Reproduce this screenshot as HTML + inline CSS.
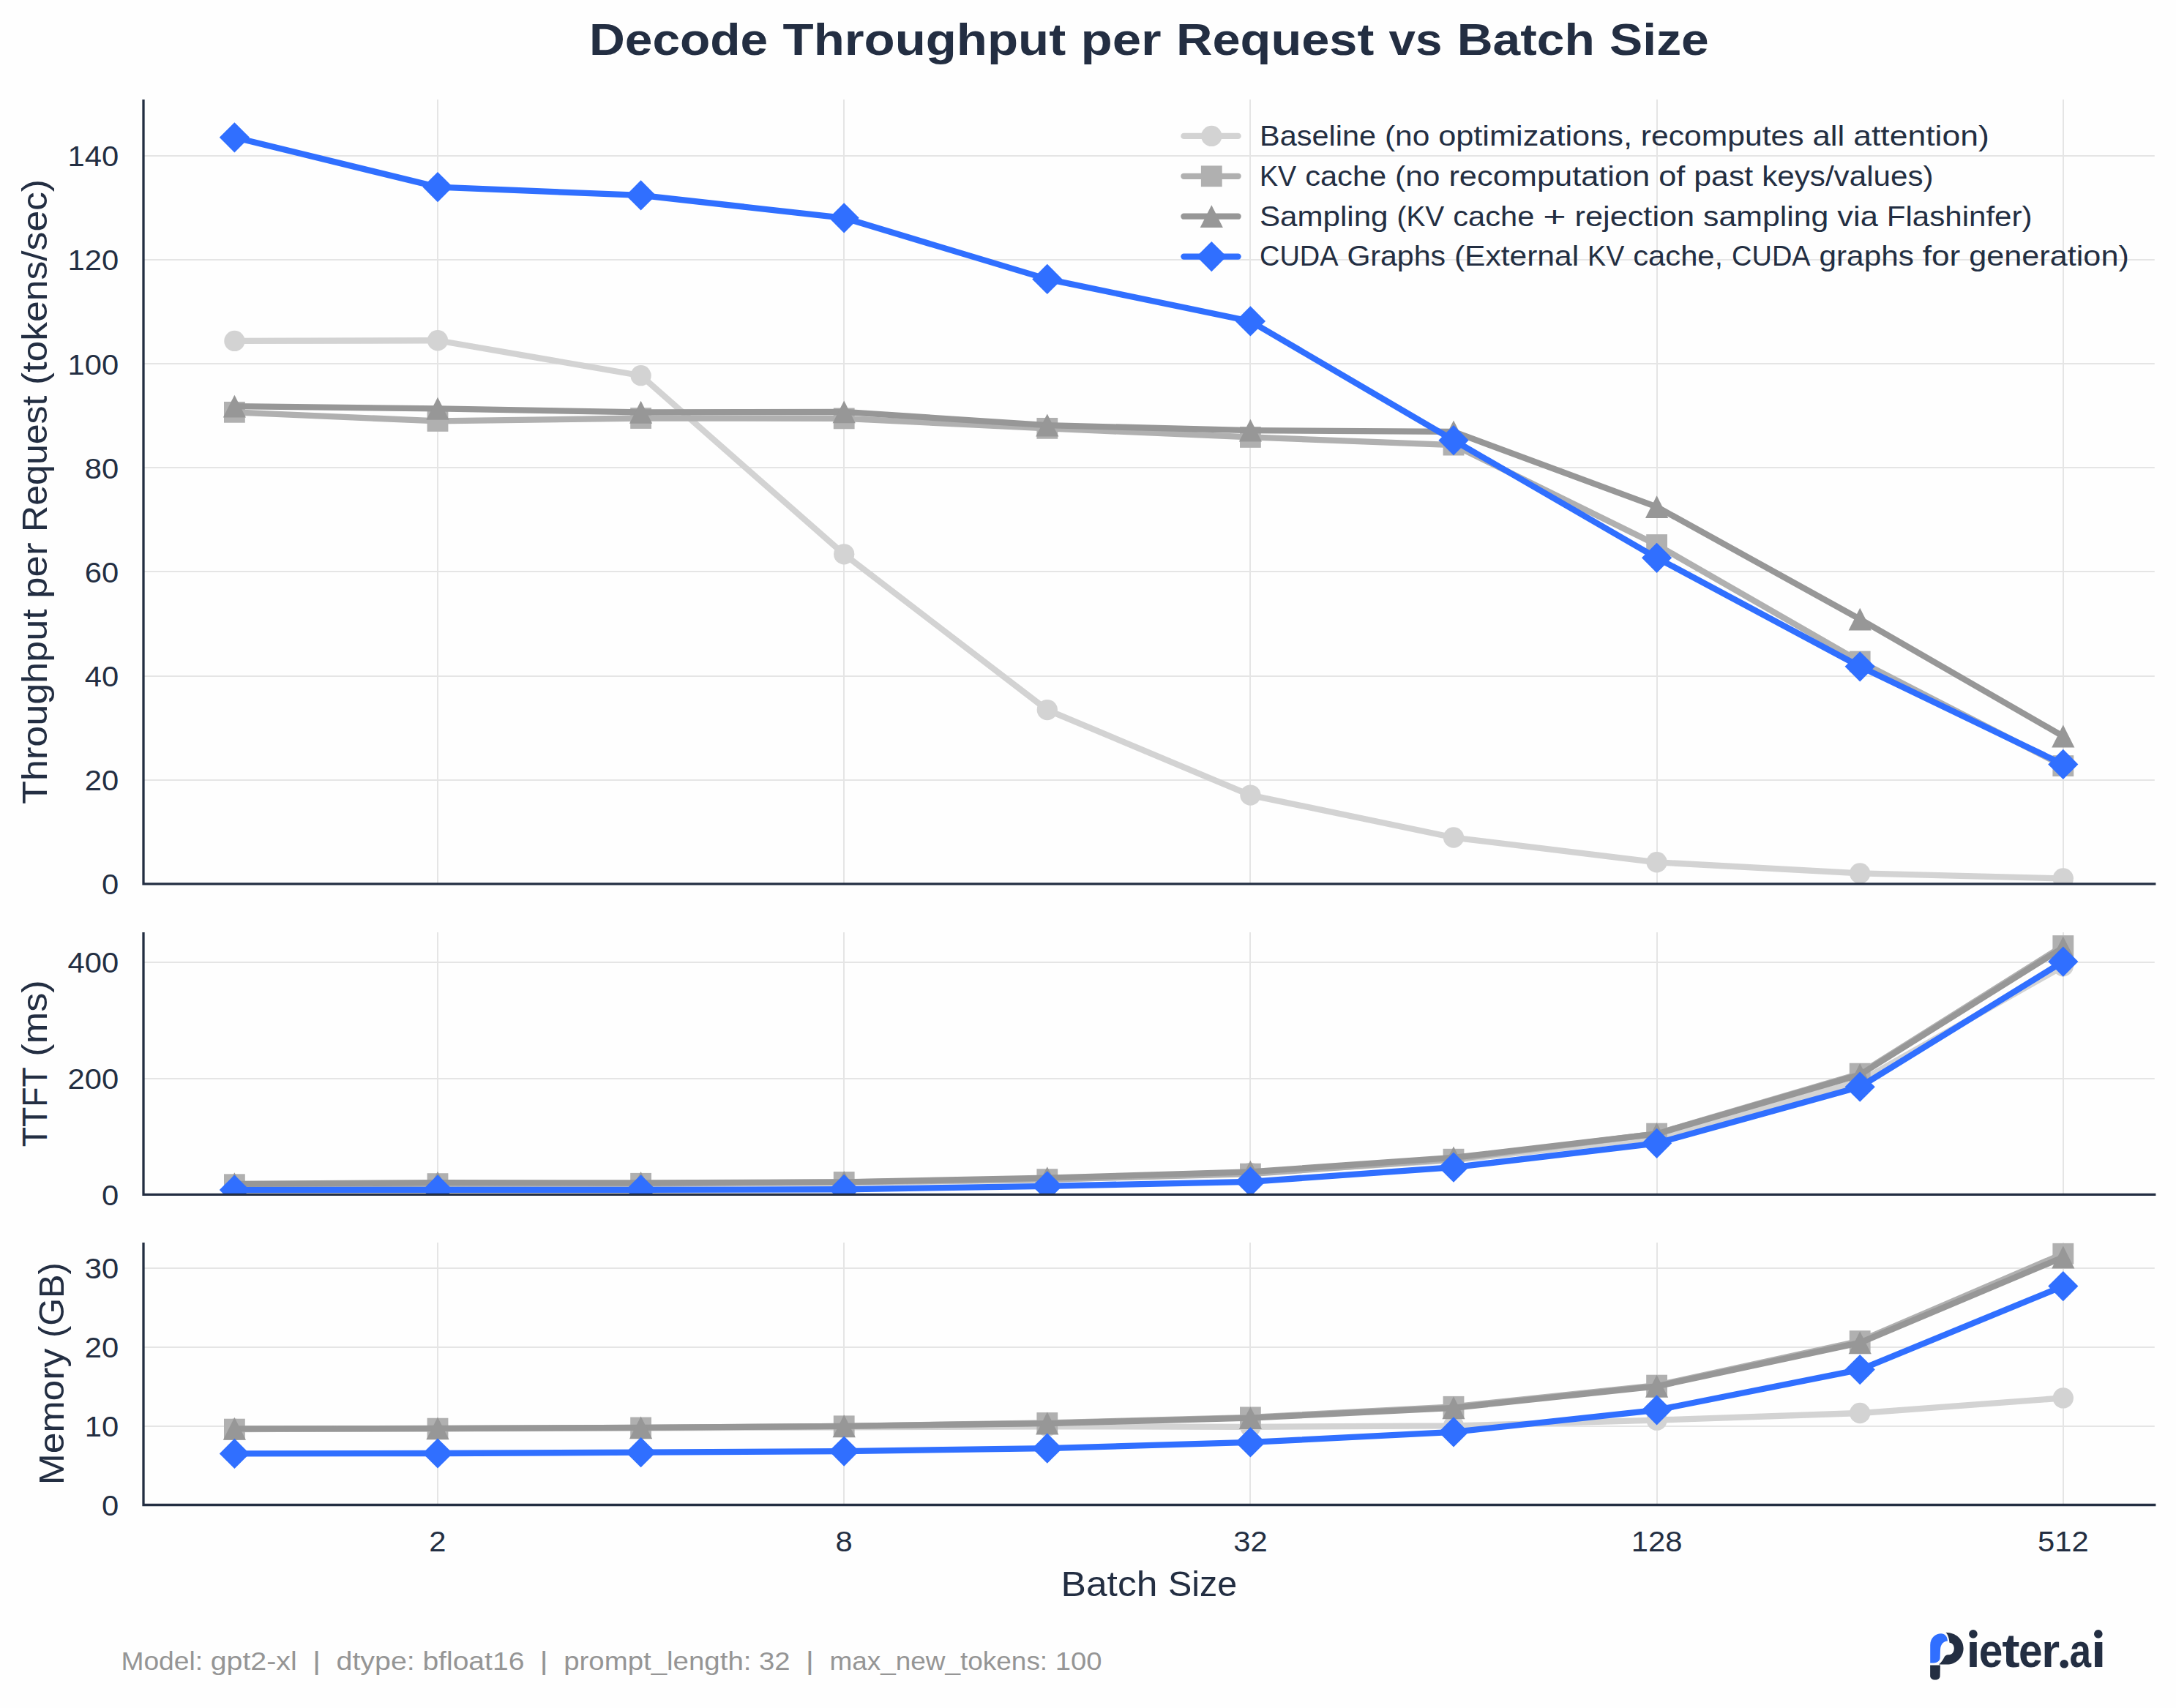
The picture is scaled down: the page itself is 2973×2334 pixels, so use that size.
<!DOCTYPE html>
<html><head><meta charset="utf-8"><style>
html,body{margin:0;padding:0;background:#fefefe;}
svg{display:block;font-family:"Liberation Sans",sans-serif;}
</style></head><body>
<svg width="2973" height="2334" viewBox="0 0 2973 2334">
<defs><clipPath id="c0"><rect x="196.0" y="136.0" width="2747.8" height="1071.9"/></clipPath><clipPath id="c1"><rect x="196.0" y="1274.1" width="2747.8" height="358.2"/></clipPath><clipPath id="c2"><rect x="196.0" y="1698.05" width="2747.8" height="358.45"/></clipPath></defs>
<rect x="0" y="0" width="2973" height="2334" fill="#fefefe"/>
<g font-size="61.03" font-weight="bold" fill="#232e42"><text x="804.99" y="75.2" textLength="244.24" lengthAdjust="spacingAndGlyphs">Decode</text><text x="1069.56" y="75.2" textLength="386.59" lengthAdjust="spacingAndGlyphs">Throughput</text><text x="1476.48" y="75.2" textLength="110.21" lengthAdjust="spacingAndGlyphs">per</text><text x="1607.03" y="75.2" textLength="270.24" lengthAdjust="spacingAndGlyphs">Request</text><text x="1897.6" y="75.2" textLength="72.83" lengthAdjust="spacingAndGlyphs">vs</text><text x="1990.76" y="75.2" textLength="188.03" lengthAdjust="spacingAndGlyphs">Batch</text><text x="2199.13" y="75.2" textLength="135.68" lengthAdjust="spacingAndGlyphs">Size</text></g>
<g stroke="#e5e5e5" stroke-width="2"><line x1="598" y1="136.0" x2="598" y2="1207.9"/><line x1="1153" y1="136.0" x2="1153" y2="1207.9"/><line x1="1708" y1="136.0" x2="1708" y2="1207.9"/><line x1="2264" y1="136.0" x2="2264" y2="1207.9"/><line x1="2819" y1="136.0" x2="2819" y2="1207.9"/><line x1="196.0" y1="1066" x2="2943.8" y2="1066"/><line x1="196.0" y1="924" x2="2943.8" y2="924"/><line x1="196.0" y1="781" x2="2943.8" y2="781"/><line x1="196.0" y1="639" x2="2943.8" y2="639"/><line x1="196.0" y1="497" x2="2943.8" y2="497"/><line x1="196.0" y1="355" x2="2943.8" y2="355"/><line x1="196.0" y1="213" x2="2943.8" y2="213"/></g>
<g clip-path="url(#c0)"><polyline points="320.4,465.96 598,465.25 875.6,513.22 1153.2,757.34 1430.8,970.11 1708.4,1086.59 1986,1144.51 2263.6,1178.27 2541.2,1193.4 2818.8,1200.44" fill="none" stroke="#d3d3d3" stroke-width="8.3" stroke-linejoin="round" stroke-linecap="round"/><circle cx="320.4" cy="465.96" r="14.15" fill="#d3d3d3"/><circle cx="598" cy="465.25" r="14.15" fill="#d3d3d3"/><circle cx="875.6" cy="513.22" r="14.15" fill="#d3d3d3"/><circle cx="1153.2" cy="757.34" r="14.15" fill="#d3d3d3"/><circle cx="1430.8" cy="970.11" r="14.15" fill="#d3d3d3"/><circle cx="1708.4" cy="1086.59" r="14.15" fill="#d3d3d3"/><circle cx="1986" cy="1144.51" r="14.15" fill="#d3d3d3"/><circle cx="2263.6" cy="1178.27" r="14.15" fill="#d3d3d3"/><circle cx="2541.2" cy="1193.4" r="14.15" fill="#d3d3d3"/><circle cx="2818.8" cy="1200.44" r="14.15" fill="#d3d3d3"/><polyline points="320.4,563.32 598,575.4 875.6,571.5 1153.2,571.85 1430.8,585.35 1708.4,597.43 1986,608.09 2263.6,744.54 2541.2,904.02 2818.8,1046.58" fill="none" stroke="#b0b0b0" stroke-width="8.3" stroke-linejoin="round" stroke-linecap="round"/><rect x="306" y="548.92" width="28.8" height="28.8" fill="#b0b0b0"/><rect x="583.6" y="561" width="28.8" height="28.8" fill="#b0b0b0"/><rect x="861.2" y="557.1" width="28.8" height="28.8" fill="#b0b0b0"/><rect x="1138.8" y="557.45" width="28.8" height="28.8" fill="#b0b0b0"/><rect x="1416.4" y="570.95" width="28.8" height="28.8" fill="#b0b0b0"/><rect x="1694" y="583.03" width="28.8" height="28.8" fill="#b0b0b0"/><rect x="1971.6" y="593.69" width="28.8" height="28.8" fill="#b0b0b0"/><rect x="2249.2" y="730.14" width="28.8" height="28.8" fill="#b0b0b0"/><rect x="2526.8" y="889.62" width="28.8" height="28.8" fill="#b0b0b0"/><rect x="2804.4" y="1032.18" width="28.8" height="28.8" fill="#b0b0b0"/><polyline points="320.4,555.22 598,558.35 875.6,563.32 1153.2,562.9 1430.8,581.09 1708.4,588.2 1986,589.97 2263.6,692.66 2541.2,846.17 2818.8,1006.07" fill="none" stroke="#979797" stroke-width="8.3" stroke-linejoin="round" stroke-linecap="round"/><path d="M320.4 539.72L336 570.62L304.8 570.62Z" fill="#979797"/><path d="M598 542.85L613.6 573.75L582.4 573.75Z" fill="#979797"/><path d="M875.6 547.82L891.2 578.72L860 578.72Z" fill="#979797"/><path d="M1153.2 547.4L1168.8 578.3L1137.6 578.3Z" fill="#979797"/><path d="M1430.8 565.59L1446.4 596.49L1415.2 596.49Z" fill="#979797"/><path d="M1708.4 572.7L1724 603.6L1692.8 603.6Z" fill="#979797"/><path d="M1986 574.47L2001.6 605.37L1970.4 605.37Z" fill="#979797"/><path d="M2263.6 677.16L2279.2 708.06L2248 708.06Z" fill="#979797"/><path d="M2541.2 830.67L2556.8 861.57L2525.6 861.57Z" fill="#979797"/><path d="M2818.8 990.57L2834.4 1021.47L2803.2 1021.47Z" fill="#979797"/><polyline points="320.4,187.8 598,255.6 875.6,266.97 1153.2,297.82 1430.8,381.39 1708.4,438.96 1986,601.7 2263.6,762.31 2541.2,910.84 2818.8,1044.45" fill="none" stroke="#306fff" stroke-width="8.3" stroke-linejoin="round" stroke-linecap="round"/><path d="M320.4 167.2L341 187.8L320.4 208.4L299.8 187.8Z" fill="#306fff"/><path d="M598 235L618.6 255.6L598 276.2L577.4 255.6Z" fill="#306fff"/><path d="M875.6 246.37L896.2 266.97L875.6 287.57L855 266.97Z" fill="#306fff"/><path d="M1153.2 277.22L1173.8 297.82L1153.2 318.42L1132.6 297.82Z" fill="#306fff"/><path d="M1430.8 360.79L1451.4 381.39L1430.8 401.99L1410.2 381.39Z" fill="#306fff"/><path d="M1708.4 418.36L1729 438.96L1708.4 459.56L1687.8 438.96Z" fill="#306fff"/><path d="M1986 581.1L2006.6 601.7L1986 622.3L1965.4 601.7Z" fill="#306fff"/><path d="M2263.6 741.71L2284.2 762.31L2263.6 782.91L2243 762.31Z" fill="#306fff"/><path d="M2541.2 890.24L2561.8 910.84L2541.2 931.44L2520.6 910.84Z" fill="#306fff"/><path d="M2818.8 1023.85L2839.4 1044.45L2818.8 1065.05L2798.2 1044.45Z" fill="#306fff"/></g>
<path d="M196.0 136.0V1207.9H2945.4" fill="none" stroke="#232e42" stroke-width="3.3" stroke-linejoin="miter"/>
<g font-size="38.14" fill="#232e42"><text x="139.08" y="1222.2" textLength="23.22" lengthAdjust="spacingAndGlyphs">0</text></g>
<g font-size="38.14" fill="#232e42"><text x="115.85" y="1080.07" textLength="46.45" lengthAdjust="spacingAndGlyphs">20</text></g>
<g font-size="38.14" fill="#232e42"><text x="115.85" y="937.93" textLength="46.45" lengthAdjust="spacingAndGlyphs">40</text></g>
<g font-size="38.14" fill="#232e42"><text x="115.85" y="795.8" textLength="46.45" lengthAdjust="spacingAndGlyphs">60</text></g>
<g font-size="38.14" fill="#232e42"><text x="115.85" y="653.66" textLength="46.45" lengthAdjust="spacingAndGlyphs">80</text></g>
<g font-size="38.14" fill="#232e42"><text x="92.63" y="511.53" textLength="69.67" lengthAdjust="spacingAndGlyphs">100</text></g>
<g font-size="38.14" fill="#232e42"><text x="92.63" y="369.4" textLength="69.67" lengthAdjust="spacingAndGlyphs">120</text></g>
<g font-size="38.14" fill="#232e42"><text x="92.63" y="227.26" textLength="69.67" lengthAdjust="spacingAndGlyphs">140</text></g>
<g transform="translate(63.9,671.95) rotate(-90)" font-size="47.97" fill="#232e42"><text x="-427.01" y="0" textLength="266.62" lengthAdjust="spacingAndGlyphs">Throughput</text><text x="-145.8" y="0" textLength="76.25" lengthAdjust="spacingAndGlyphs">per</text><text x="-54.97" y="0" textLength="186.45" lengthAdjust="spacingAndGlyphs">Request</text><text x="146.07" y="0" textLength="280.94" lengthAdjust="spacingAndGlyphs">(tokens/sec)</text></g>
<g stroke="#e5e5e5" stroke-width="2"><line x1="598" y1="1274.1" x2="598" y2="1632.3"/><line x1="1153" y1="1274.1" x2="1153" y2="1632.3"/><line x1="1708" y1="1274.1" x2="1708" y2="1632.3"/><line x1="2264" y1="1274.1" x2="2264" y2="1632.3"/><line x1="2819" y1="1274.1" x2="2819" y2="1632.3"/><line x1="196.0" y1="1474" x2="2943.8" y2="1474"/><line x1="196.0" y1="1315" x2="2943.8" y2="1315"/></g>
<g clip-path="url(#c1)"><polyline points="320.4,1619.6 598,1618.41 875.6,1618.01 1153.2,1616.42 1430.8,1612.06 1708.4,1602.93 1986,1585.47 2263.6,1554.51 2541.2,1477.52 2818.8,1320.36" fill="none" stroke="#d3d3d3" stroke-width="8.3" stroke-linejoin="round" stroke-linecap="round"/><circle cx="320.4" cy="1619.6" r="14.15" fill="#d3d3d3"/><circle cx="598" cy="1618.41" r="14.15" fill="#d3d3d3"/><circle cx="875.6" cy="1618.01" r="14.15" fill="#d3d3d3"/><circle cx="1153.2" cy="1616.42" r="14.15" fill="#d3d3d3"/><circle cx="1430.8" cy="1612.06" r="14.15" fill="#d3d3d3"/><circle cx="1708.4" cy="1602.93" r="14.15" fill="#d3d3d3"/><circle cx="1986" cy="1585.47" r="14.15" fill="#d3d3d3"/><circle cx="2263.6" cy="1554.51" r="14.15" fill="#d3d3d3"/><circle cx="2541.2" cy="1477.52" r="14.15" fill="#d3d3d3"/><circle cx="2818.8" cy="1320.36" r="14.15" fill="#d3d3d3"/><polyline points="320.4,1618.73 598,1617.62 875.6,1617.3 1153.2,1615.47 1430.8,1611.66 1708.4,1604.12 1986,1584.2 2263.6,1549.12 2541.2,1467.12 2818.8,1292.58" fill="none" stroke="#b0b0b0" stroke-width="8.3" stroke-linejoin="round" stroke-linecap="round"/><rect x="306" y="1604.33" width="28.8" height="28.8" fill="#b0b0b0"/><rect x="583.6" y="1603.22" width="28.8" height="28.8" fill="#b0b0b0"/><rect x="861.2" y="1602.9" width="28.8" height="28.8" fill="#b0b0b0"/><rect x="1138.8" y="1601.07" width="28.8" height="28.8" fill="#b0b0b0"/><rect x="1416.4" y="1597.26" width="28.8" height="28.8" fill="#b0b0b0"/><rect x="1694" y="1589.72" width="28.8" height="28.8" fill="#b0b0b0"/><rect x="1971.6" y="1569.8" width="28.8" height="28.8" fill="#b0b0b0"/><rect x="2249.2" y="1534.71" width="28.8" height="28.8" fill="#b0b0b0"/><rect x="2526.8" y="1452.72" width="28.8" height="28.8" fill="#b0b0b0"/><rect x="2804.4" y="1278.17" width="28.8" height="28.8" fill="#b0b0b0"/><polyline points="320.4,1617.85 598,1616.19 875.6,1616.5 1153.2,1615.39 1430.8,1609.68 1708.4,1601.34 1986,1581.98 2263.6,1549.43 2541.2,1468.55 2818.8,1294.96" fill="none" stroke="#979797" stroke-width="8.3" stroke-linejoin="round" stroke-linecap="round"/><path d="M320.4 1602.35L336 1633.25L304.8 1633.25Z" fill="#979797"/><path d="M598 1600.69L613.6 1631.59L582.4 1631.59Z" fill="#979797"/><path d="M875.6 1601L891.2 1631.9L860 1631.9Z" fill="#979797"/><path d="M1153.2 1599.89L1168.8 1630.79L1137.6 1630.79Z" fill="#979797"/><path d="M1430.8 1594.18L1446.4 1625.08L1415.2 1625.08Z" fill="#979797"/><path d="M1708.4 1585.84L1724 1616.74L1692.8 1616.74Z" fill="#979797"/><path d="M1986 1566.48L2001.6 1597.38L1970.4 1597.38Z" fill="#979797"/><path d="M2263.6 1533.93L2279.2 1564.83L2248 1564.83Z" fill="#979797"/><path d="M2541.2 1453.05L2556.8 1483.95L2525.6 1483.95Z" fill="#979797"/><path d="M2818.8 1279.46L2834.4 1310.36L2803.2 1310.36Z" fill="#979797"/><polyline points="320.4,1626.11 598,1625.9 875.6,1625.87 1153.2,1625.24 1430.8,1620.79 1708.4,1614.84 1986,1595.15 2263.6,1562.29 2541.2,1485.14 2818.8,1314.09" fill="none" stroke="#306fff" stroke-width="8.3" stroke-linejoin="round" stroke-linecap="round"/><path d="M320.4 1605.51L341 1626.11L320.4 1646.71L299.8 1626.11Z" fill="#306fff"/><path d="M598 1605.3L618.6 1625.9L598 1646.5L577.4 1625.9Z" fill="#306fff"/><path d="M875.6 1605.27L896.2 1625.87L875.6 1646.47L855 1625.87Z" fill="#306fff"/><path d="M1153.2 1604.64L1173.8 1625.24L1153.2 1645.84L1132.6 1625.24Z" fill="#306fff"/><path d="M1430.8 1600.19L1451.4 1620.79L1430.8 1641.39L1410.2 1620.79Z" fill="#306fff"/><path d="M1708.4 1594.24L1729 1614.84L1708.4 1635.44L1687.8 1614.84Z" fill="#306fff"/><path d="M1986 1574.55L2006.6 1595.15L1986 1615.75L1965.4 1595.15Z" fill="#306fff"/><path d="M2263.6 1541.69L2284.2 1562.29L2263.6 1582.89L2243 1562.29Z" fill="#306fff"/><path d="M2541.2 1464.54L2561.8 1485.14L2541.2 1505.74L2520.6 1485.14Z" fill="#306fff"/><path d="M2818.8 1293.49L2839.4 1314.09L2818.8 1334.69L2798.2 1314.09Z" fill="#306fff"/></g>
<path d="M196.0 1274.1V1632.3H2945.4" fill="none" stroke="#232e42" stroke-width="3.3" stroke-linejoin="miter"/>
<g font-size="38.14" fill="#232e42"><text x="139.08" y="1646.6" textLength="23.22" lengthAdjust="spacingAndGlyphs">0</text></g>
<g font-size="38.14" fill="#232e42"><text x="92.63" y="1487.85" textLength="69.67" lengthAdjust="spacingAndGlyphs">200</text></g>
<g font-size="38.14" fill="#232e42"><text x="92.63" y="1329.1" textLength="69.67" lengthAdjust="spacingAndGlyphs">400</text></g>
<g transform="translate(63.9,1453.2) rotate(-90)" font-size="47.97" fill="#232e42"><text x="-113.97" y="0" textLength="108.9" lengthAdjust="spacingAndGlyphs">TTFT</text><text x="9.53" y="0" textLength="104.44" lengthAdjust="spacingAndGlyphs">(ms)</text></g>
<g stroke="#e5e5e5" stroke-width="2"><line x1="598" y1="1698.05" x2="598" y2="2056.5"/><line x1="1153" y1="1698.05" x2="1153" y2="2056.5"/><line x1="1708" y1="1698.05" x2="1708" y2="2056.5"/><line x1="2264" y1="1698.05" x2="2264" y2="2056.5"/><line x1="2819" y1="1698.05" x2="2819" y2="2056.5"/><line x1="196.0" y1="1949" x2="2943.8" y2="1949"/><line x1="196.0" y1="1841" x2="2943.8" y2="1841"/><line x1="196.0" y1="1733" x2="2943.8" y2="1733"/></g>
<g clip-path="url(#c2)"><polyline points="320.4,1952.58 598,1952.58 875.6,1951.5 1153.2,1950.42 1430.8,1949.24 1708.4,1949.78 1986,1948.38 2263.6,1940.62 2541.2,1931.02 2818.8,1910.43" fill="none" stroke="#d3d3d3" stroke-width="8.3" stroke-linejoin="round" stroke-linecap="round"/><circle cx="320.4" cy="1952.58" r="14.15" fill="#d3d3d3"/><circle cx="598" cy="1952.58" r="14.15" fill="#d3d3d3"/><circle cx="875.6" cy="1951.5" r="14.15" fill="#d3d3d3"/><circle cx="1153.2" cy="1950.42" r="14.15" fill="#d3d3d3"/><circle cx="1430.8" cy="1949.24" r="14.15" fill="#d3d3d3"/><circle cx="1708.4" cy="1949.78" r="14.15" fill="#d3d3d3"/><circle cx="1986" cy="1948.38" r="14.15" fill="#d3d3d3"/><circle cx="2263.6" cy="1940.62" r="14.15" fill="#d3d3d3"/><circle cx="2541.2" cy="1931.02" r="14.15" fill="#d3d3d3"/><circle cx="2818.8" cy="1910.43" r="14.15" fill="#d3d3d3"/><polyline points="320.4,1953.12 598,1952.15 875.6,1950.96 1153.2,1948.81 1430.8,1944.5 1708.4,1936.84 1986,1922.29 2263.6,1893.08 2541.2,1832.6 2818.8,1713.26" fill="none" stroke="#b0b0b0" stroke-width="8.3" stroke-linejoin="round" stroke-linecap="round"/><rect x="306" y="1938.72" width="28.8" height="28.8" fill="#b0b0b0"/><rect x="583.6" y="1937.75" width="28.8" height="28.8" fill="#b0b0b0"/><rect x="861.2" y="1936.56" width="28.8" height="28.8" fill="#b0b0b0"/><rect x="1138.8" y="1934.41" width="28.8" height="28.8" fill="#b0b0b0"/><rect x="1416.4" y="1930.1" width="28.8" height="28.8" fill="#b0b0b0"/><rect x="1694" y="1922.44" width="28.8" height="28.8" fill="#b0b0b0"/><rect x="1971.6" y="1907.89" width="28.8" height="28.8" fill="#b0b0b0"/><rect x="2249.2" y="1878.68" width="28.8" height="28.8" fill="#b0b0b0"/><rect x="2526.8" y="1818.2" width="28.8" height="28.8" fill="#b0b0b0"/><rect x="2804.4" y="1698.86" width="28.8" height="28.8" fill="#b0b0b0"/><polyline points="320.4,1952.37 598,1951.93 875.6,1950.96 1153.2,1948.81 1430.8,1945.03 1708.4,1937.7 1986,1923.8 2263.6,1894.37 2541.2,1834.86 2818.8,1718.01" fill="none" stroke="#979797" stroke-width="8.3" stroke-linejoin="round" stroke-linecap="round"/><path d="M320.4 1936.87L336 1967.77L304.8 1967.77Z" fill="#979797"/><path d="M598 1936.43L613.6 1967.33L582.4 1967.33Z" fill="#979797"/><path d="M875.6 1935.46L891.2 1966.36L860 1966.36Z" fill="#979797"/><path d="M1153.2 1933.31L1168.8 1964.21L1137.6 1964.21Z" fill="#979797"/><path d="M1430.8 1929.53L1446.4 1960.43L1415.2 1960.43Z" fill="#979797"/><path d="M1708.4 1922.2L1724 1953.1L1692.8 1953.1Z" fill="#979797"/><path d="M1986 1908.3L2001.6 1939.2L1970.4 1939.2Z" fill="#979797"/><path d="M2263.6 1878.87L2279.2 1909.77L2248 1909.77Z" fill="#979797"/><path d="M2541.2 1819.36L2556.8 1850.26L2525.6 1850.26Z" fill="#979797"/><path d="M2818.8 1702.51L2834.4 1733.41L2803.2 1733.41Z" fill="#979797"/><polyline points="320.4,1986.43 598,1986 875.6,1984.71 1153.2,1983.09 1430.8,1979.21 1708.4,1970.91 1986,1956.89 2263.6,1926.82 2541.2,1871.62 2818.8,1757.57" fill="none" stroke="#306fff" stroke-width="8.3" stroke-linejoin="round" stroke-linecap="round"/><path d="M320.4 1965.83L341 1986.43L320.4 2007.03L299.8 1986.43Z" fill="#306fff"/><path d="M598 1965.4L618.6 1986L598 2006.6L577.4 1986Z" fill="#306fff"/><path d="M875.6 1964.11L896.2 1984.71L875.6 2005.31L855 1984.71Z" fill="#306fff"/><path d="M1153.2 1962.49L1173.8 1983.09L1153.2 2003.69L1132.6 1983.09Z" fill="#306fff"/><path d="M1430.8 1958.61L1451.4 1979.21L1430.8 1999.81L1410.2 1979.21Z" fill="#306fff"/><path d="M1708.4 1950.31L1729 1970.91L1708.4 1991.51L1687.8 1970.91Z" fill="#306fff"/><path d="M1986 1936.29L2006.6 1956.89L1986 1977.49L1965.4 1956.89Z" fill="#306fff"/><path d="M2263.6 1906.22L2284.2 1926.82L2263.6 1947.42L2243 1926.82Z" fill="#306fff"/><path d="M2541.2 1851.02L2561.8 1871.62L2541.2 1892.22L2520.6 1871.62Z" fill="#306fff"/><path d="M2818.8 1736.97L2839.4 1757.57L2818.8 1778.17L2798.2 1757.57Z" fill="#306fff"/></g>
<path d="M196.0 1698.05V2056.5H2945.4" fill="none" stroke="#232e42" stroke-width="3.3" stroke-linejoin="miter"/>
<g font-size="38.14" fill="#232e42"><text x="139.08" y="2070.8" textLength="23.22" lengthAdjust="spacingAndGlyphs">0</text></g>
<g font-size="38.14" fill="#232e42"><text x="115.85" y="1963" textLength="46.45" lengthAdjust="spacingAndGlyphs">10</text></g>
<g font-size="38.14" fill="#232e42"><text x="115.85" y="1855.2" textLength="46.45" lengthAdjust="spacingAndGlyphs">20</text></g>
<g font-size="38.14" fill="#232e42"><text x="115.85" y="1747.4" textLength="46.45" lengthAdjust="spacingAndGlyphs">30</text></g>
<g transform="translate(86.8,1877.28) rotate(-90)" font-size="47.97" fill="#232e42"><text x="-152.07" y="0" textLength="186.67" lengthAdjust="spacingAndGlyphs">Memory</text><text x="49.19" y="0" textLength="102.87" lengthAdjust="spacingAndGlyphs">(GB)</text></g>
<g font-size="38.14" fill="#232e42"><text x="586.39" y="2119.8" textLength="23.22" lengthAdjust="spacingAndGlyphs">2</text></g>
<g font-size="38.14" fill="#232e42"><text x="1141.59" y="2119.8" textLength="23.22" lengthAdjust="spacingAndGlyphs">8</text></g>
<g font-size="38.14" fill="#232e42"><text x="1685.18" y="2119.8" textLength="46.45" lengthAdjust="spacingAndGlyphs">32</text></g>
<g font-size="38.14" fill="#232e42"><text x="2228.77" y="2119.8" textLength="69.67" lengthAdjust="spacingAndGlyphs">128</text></g>
<g font-size="38.14" fill="#232e42"><text x="2783.97" y="2119.8" textLength="69.67" lengthAdjust="spacingAndGlyphs">512</text></g>
<g font-size="47.97" fill="#232e42"><text x="1449.52" y="2180.7" textLength="131.94" lengthAdjust="spacingAndGlyphs">Batch</text><text x="1596.06" y="2180.7" textLength="94.22" lengthAdjust="spacingAndGlyphs">Size</text></g>
<line x1="1617.4" y1="185.9" x2="1691.6" y2="185.9" stroke="#d3d3d3" stroke-width="8.3" stroke-linecap="round"/>
<circle cx="1655.3" cy="185.9" r="14.15" fill="#d3d3d3"/>
<g font-size="39.19" fill="#232e42"><text x="1721" y="198.7" textLength="158.99" lengthAdjust="spacingAndGlyphs">Baseline</text><text x="1891.91" y="198.7" textLength="61.34" lengthAdjust="spacingAndGlyphs">(no</text><text x="1965.17" y="198.7" textLength="264.77" lengthAdjust="spacingAndGlyphs">optimizations,</text><text x="2241.86" y="198.7" textLength="222.64" lengthAdjust="spacingAndGlyphs">recomputes</text><text x="2476.42" y="198.7" textLength="43.82" lengthAdjust="spacingAndGlyphs">all</text><text x="2532.16" y="198.7" textLength="185.69" lengthAdjust="spacingAndGlyphs">attention)</text></g>
<line x1="1617.4" y1="240.8" x2="1691.6" y2="240.8" stroke="#b0b0b0" stroke-width="8.3" stroke-linecap="round"/>
<rect x="1640.9" y="226.4" width="28.8" height="28.8" fill="#b0b0b0"/>
<g font-size="39.19" fill="#232e42"><text x="1721" y="253.6" textLength="50.24" lengthAdjust="spacingAndGlyphs">KV</text><text x="1783.16" y="253.6" textLength="111.05" lengthAdjust="spacingAndGlyphs">cache</text><text x="1906.14" y="253.6" textLength="61.34" lengthAdjust="spacingAndGlyphs">(no</text><text x="1979.4" y="253.6" textLength="274.84" lengthAdjust="spacingAndGlyphs">recomputation</text><text x="2266.16" y="253.6" textLength="36.14" lengthAdjust="spacingAndGlyphs">of</text><text x="2314.23" y="253.6" textLength="81.02" lengthAdjust="spacingAndGlyphs">past</text><text x="2407.17" y="253.6" textLength="234.41" lengthAdjust="spacingAndGlyphs">keys/values)</text></g>
<line x1="1617.4" y1="295.7" x2="1691.6" y2="295.7" stroke="#979797" stroke-width="8.3" stroke-linecap="round"/>
<path d="M1655.3 280.2L1670.9 311.1L1639.7 311.1Z" fill="#979797"/>
<g font-size="39.19" fill="#232e42"><text x="1721" y="308.5" textLength="175.53" lengthAdjust="spacingAndGlyphs">Sampling</text><text x="1908.45" y="308.5" textLength="64.87" lengthAdjust="spacingAndGlyphs">(KV</text><text x="1985.24" y="308.5" textLength="111.05" lengthAdjust="spacingAndGlyphs">cache</text><text x="2108.22" y="308.5" textLength="31.42" lengthAdjust="spacingAndGlyphs">+</text><text x="2151.56" y="308.5" textLength="163.61" lengthAdjust="spacingAndGlyphs">rejection</text><text x="2327.08" y="308.5" textLength="171.26" lengthAdjust="spacingAndGlyphs">sampling</text><text x="2510.26" y="308.5" textLength="55.59" lengthAdjust="spacingAndGlyphs">via</text><text x="2577.77" y="308.5" textLength="198.78" lengthAdjust="spacingAndGlyphs">Flashinfer)</text></g>
<line x1="1617.4" y1="350.6" x2="1691.6" y2="350.6" stroke="#306fff" stroke-width="8.3" stroke-linecap="round"/>
<path d="M1655.3 330L1675.9 350.6L1655.3 371.2L1634.7 350.6Z" fill="#306fff"/>
<g font-size="39.19" fill="#232e42"><text x="1721" y="363.4" textLength="107.5" lengthAdjust="spacingAndGlyphs">CUDA</text><text x="1840.42" y="363.4" textLength="134.57" lengthAdjust="spacingAndGlyphs">Graphs</text><text x="1986.91" y="363.4" textLength="170.22" lengthAdjust="spacingAndGlyphs">(External</text><text x="2169.04" y="363.4" textLength="50.24" lengthAdjust="spacingAndGlyphs">KV</text><text x="2231.21" y="363.4" textLength="122.97" lengthAdjust="spacingAndGlyphs">cache,</text><text x="2366.1" y="363.4" textLength="107.5" lengthAdjust="spacingAndGlyphs">CUDA</text><text x="2485.52" y="363.4" textLength="129.31" lengthAdjust="spacingAndGlyphs">graphs</text><text x="2626.76" y="363.4" textLength="51.56" lengthAdjust="spacingAndGlyphs">for</text><text x="2690.24" y="363.4" textLength="218.57" lengthAdjust="spacingAndGlyphs">generation)</text></g>
<g font-size="34.96" fill="#959595"><text x="165.4" y="2282" textLength="111.7" lengthAdjust="spacingAndGlyphs">Model:</text><text x="287.73" y="2282" textLength="118.02" lengthAdjust="spacingAndGlyphs">gpt2-xl</text><text x="427.02" y="2282" textLength="11.27" lengthAdjust="spacingAndGlyphs">|</text><text x="459.56" y="2282" textLength="107.23" lengthAdjust="spacingAndGlyphs">dtype:</text><text x="577.42" y="2282" textLength="138.95" lengthAdjust="spacingAndGlyphs">bfloat16</text><text x="737.63" y="2282" textLength="11.27" lengthAdjust="spacingAndGlyphs">|</text><text x="770.17" y="2282" textLength="256.27" lengthAdjust="spacingAndGlyphs">prompt_length:</text><text x="1037.06" y="2282" textLength="42.56" lengthAdjust="spacingAndGlyphs">32</text><text x="1100.89" y="2282" textLength="11.27" lengthAdjust="spacingAndGlyphs">|</text><text x="1133.43" y="2282" textLength="297.7" lengthAdjust="spacingAndGlyphs">max_new_tokens:</text><text x="1441.77" y="2282" textLength="63.85" lengthAdjust="spacingAndGlyphs">100</text></g>
<g>
<path d="M2637.2 2272.5 L2637.2 2248 C2637.2 2238 2645 2232.3 2652 2232.3 C2657 2232.3 2660.5 2236 2661 2242.5 C2655 2243 2651.5 2247 2651 2254 L2650.6 2266 C2650 2271 2645 2273 2637.2 2272.5 Z" fill="#306fff"/>
<path d="M2658.5 2230.8 C2672 2231 2682.6 2240 2682.6 2252.5 C2682.6 2265 2672 2274.6 2660 2274.6 L2649 2274.6 C2653 2271 2654.5 2268 2657 2263.5 C2659 2261.5 2661 2261.3 2663 2261.3 C2667 2261.3 2669.8 2257.5 2669.8 2252.6 C2669.8 2248.5 2667.5 2245 2663.5 2244.8 C2663 2238 2661 2233.5 2658.5 2230.8 Z" fill="#232e42"/>
<path d="M2637.1 2275.4 L2650.9 2275.4 L2650.6 2290 C2650.5 2294 2647.5 2295.5 2644 2295.5 C2640 2295.5 2637.1 2293.5 2637.1 2290 Z" fill="#232e42"/>
</g>
<text x="2686.31" y="2278.2" font-size="64.0" font-weight="bold" fill="#232e42" textLength="19.4" lengthAdjust="spacingAndGlyphs">ı</text>
<text x="2703.65" y="2278.2" font-size="64.0" font-weight="bold" fill="#232e42" textLength="32.62" lengthAdjust="spacingAndGlyphs">e</text>
<text x="2735.29" y="2278.2" font-size="64.0" font-weight="bold" fill="#232e42" textLength="24.37" lengthAdjust="spacingAndGlyphs">t</text>
<text x="2757.95" y="2278.2" font-size="64.0" font-weight="bold" fill="#232e42" textLength="32.62" lengthAdjust="spacingAndGlyphs">e</text>
<text x="2789.35" y="2278.2" font-size="64.0" font-weight="bold" fill="#232e42" textLength="24.86" lengthAdjust="spacingAndGlyphs">r</text>
<text x="2827.51" y="2278.2" font-size="64.0" font-weight="bold" fill="#232e42" textLength="29.56" lengthAdjust="spacingAndGlyphs">a</text>
<text x="2856.66" y="2278.2" font-size="64.0" font-weight="bold" fill="#232e42" textLength="20.81" lengthAdjust="spacingAndGlyphs">ı</text>
<circle cx="2695.9" cy="2232.9" r="5.8" fill="#232e42"/>
<circle cx="2820.2" cy="2273.8" r="5.8" fill="#232e42"/>
<circle cx="2866.8" cy="2232.9" r="5.8" fill="#232e42"/>
</svg></body></html>
